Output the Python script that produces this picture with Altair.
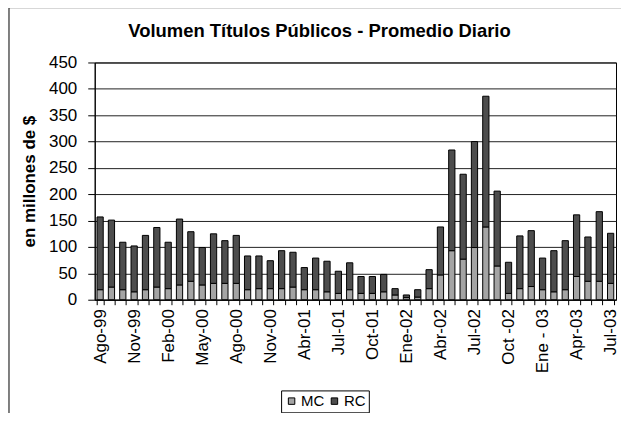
import altair as alt
import pandas as pd

months = ["Ago-99", "Sep-99", "Oct-99", "Nov-99", "Dic-99", "Ene-00", "Feb-00", "Mar-00",
          "Abr-00", "May-00", "Jun-00", "Jul-00", "Ago-00", "Sep-00", "Oct-00", "Nov-00",
          "Feb-01", "Mar-01", "Abr-01", "May-01", "Jun-01", "Jul-01", "Ago-01", "Sep-01",
          "Oct-01", "Nov-01", "Dic-01", "Ene-02", "Feb-02", "Mar-02", "Abr-02", "May-02",
          "Jun-02", "Jul-02", "Ago-02", "Sep-02", "Oct -02", "Nov-02", "Dic-02", "Ene - 03",
          "Feb-03", "Mar-03", "Apr-03", "May-03", "Jun-03", "Jul-03"]

label_months = ["Ago-99", "Nov-99", "Feb-00", "May-00", "Ago-00", "Nov-00", "Abr-01", "Jul-01",
                "Oct-01", "Ene-02", "Abr-02", "Jul-02", "Oct -02", "Ene - 03", "Apr-03", "Jul-03"]

mc = [19, 24, 19, 15, 19, 24, 21, 28, 35, 28,
      31, 31, 31, 19, 21, 21, 21, 24, 19, 19,
      15, 12, 19, 12, 12, 15, 9, 4, 5, 21,
      47, 93, 77, 99, 138, 64, 12, 21, 25, 19,
      15, 19, 44, 35, 35, 31]

rc = [138, 127, 90, 87, 103, 113, 88, 125, 94, 71,
      94, 81, 91, 64, 62, 53, 72, 66, 42, 60,
      58, 42, 51, 32, 32, 33, 12, 5, 14, 36,
      91, 191, 161, 201, 248, 142, 59, 100, 106, 60,
      78, 93, 117, 84, 132, 95]

series = ["MC", "RC"]
colors = ["#a4a4a4", "#4d4d4d"]
y_ticks = [0, 50, 100, 150, 200, 250, 300, 350, 400, 450]

rows = []
for i, m in enumerate(months):
    rows.append({"mes": m, "serie": "MC", "valor": mc[i], "orden": 0})
    rows.append({"mes": m, "serie": "RC", "valor": rc[i], "orden": 1})
df = pd.DataFrame(rows)

label_js = "[" + ",".join("'" + l + "'" for l in label_months) + "]"

bars = alt.Chart(df).mark_bar(stroke="black", strokeWidth=1).encode(
    x=alt.X("mes:N", sort=months,
            scale=alt.Scale(paddingInner=0.45, paddingOuter=0.2),
            axis=alt.Axis(title=None, labelAngle=-90,
                          labelExpr="indexof(" + label_js + ", datum.value) >= 0 ? datum.value : ''",
                          labelOverlap=False, tickBand="extent", ticks=True, tickSize=5,
                          tickColor="black", domainColor="black", labelFontSize=17,
                          labelColor="black", labelPadding=4, grid=False,
                          labelAlign="right", labelBaseline="middle")),
    y=alt.Y("valor:Q", stack="zero", scale=alt.Scale(domain=[0, 450], nice=False),
            axis=alt.Axis(values=y_ticks, title="en millones de $", titleFontSize=17,
                          titleFontWeight="bold", titleColor="black", labelFontSize=17,
                          labelColor="black", tickSize=7, tickColor="black",
                          domainColor="black", gridColor="#222222", gridWidth=1,
                          labelPadding=11, titlePadding=10)),
    color=alt.Color("serie:N", scale=alt.Scale(domain=series, range=colors),
                    legend=alt.Legend(title=None, orient="none", legendX=187, legendY=329,
                                      direction="horizontal", strokeColor="black",
                                      padding=3, symbolType="square", symbolSize=42,
                                      symbolStrokeColor="black", symbolStrokeWidth=1,
                                      labelFontSize=15, labelColor="black",
                                      columnPadding=2, labelOffset=2)),
    order=alt.Order("orden:Q"),
)

border = alt.Chart(pd.DataFrame({"a": [0]})).mark_rect(
    fill=None, stroke="black", strokeWidth=1, clip=False
).encode(x=alt.value(-86), y=alt.value(-55), x2=alt.value(600), y2=alt.value(400))

chart = alt.layer(border, bars).properties(
    width=523, height=238,
    padding={"left": 87, "top": 54, "right": 5, "bottom": 113},
    autosize="none",
    title=alt.TitleParams("Volumen Títulos Públicos - Promedio Diario", fontSize=18.5,
                          fontWeight="bold", anchor="middle", dx=-36, offset=0, dy=33,
                          color="black"),
).configure(font="Liberation Sans").configure_view(stroke="black", strokeWidth=1)

chart.save("out.html", embed_options={"renderer": "svg", "actions": False})
